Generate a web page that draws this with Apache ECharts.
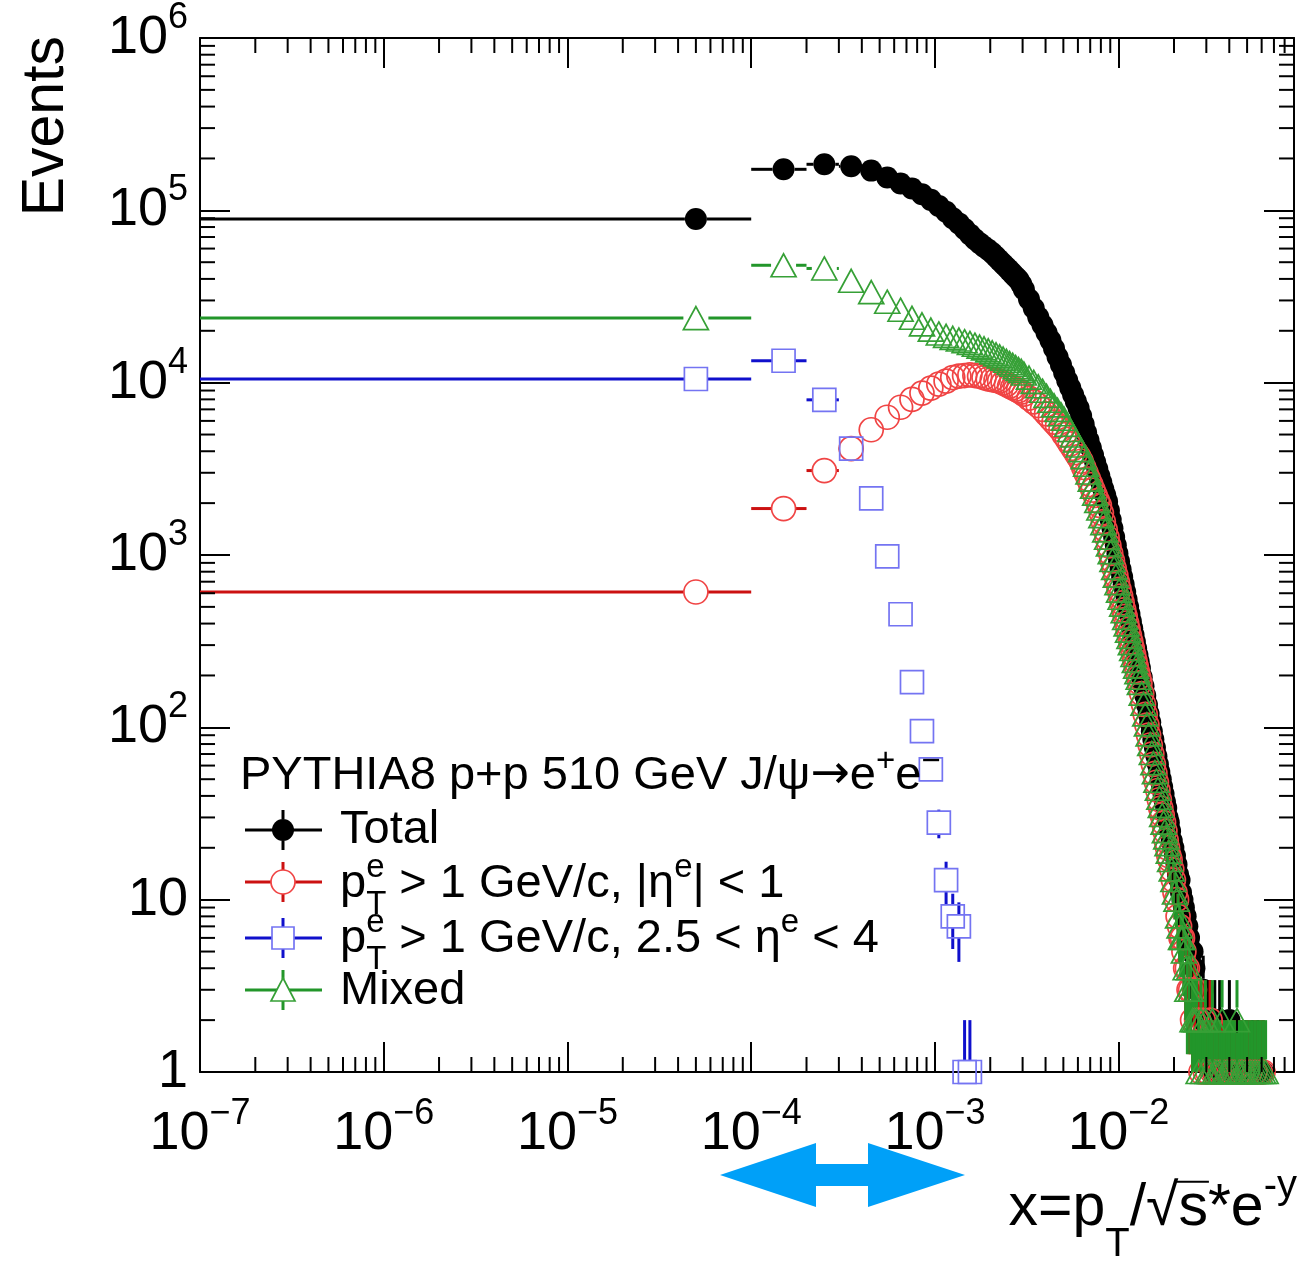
<!DOCTYPE html>
<html>
<head>
<meta charset="utf-8">
<script src="https://cdn.jsdelivr.net/npm/echarts@6/dist/echarts.min.js"></script>
<style>
  html, body { margin: 0; padding: 0; background: #ffffff; }
  #chart { width: 1312px; height: 1263px; }
</style>
</head>
<body>
<div id="chart"></div>
<script>
// ---- data -------------------------------------------------------------
// histogram bin width along x; bin k covers [k, k+1) * BIN_WIDTH
const BIN_WIDTH = 1e-4;

// indices of the drawn bins for the Total, |eta|<1 and Mixed samples
const binIndex = [
  0, 1, 2, 3, 4, 5, 6, 7, 8, 9, 10, 11, 12, 13, 14, 15, 16, 17, 18, 19,
  20, 21, 22, 23, 24, 25, 26, 27, 28, 29, 30,
  32, 34, 36, 38, 40, 42, 44, 46, 48, 50, 52, 54, 56, 58, 60, 62, 64, 66, 68, 70,
  72, 74, 76, 78, 80, 82, 84, 86, 88, 90, 92, 94, 96, 98, 100, 102, 104, 106, 108, 110,
  112, 114, 116, 118, 120, 122, 124, 126, 128, 130,
  133, 136, 139, 142, 145, 148, 151, 154, 157, 160, 163, 166, 169, 172, 175, 178, 181, 184, 187, 190,
  194, 198, 202, 206, 210, 214, 218, 222, 226,
  231, 236, 241, 246, 252, 258,
  265, 272, 280, 288, 296, 305, 314, 323, 333, 343, 354, 365, 376, 388, 400,
  413, 426, 440, 454, 469, 484, 500, 517, 534, 552, 570, 590, 610, 630
];

// event counts per bin (null = empty bin)
const totalCounts = [
  89000, 173000, 185000, 180000, 170000, 155000, 143000, 134000, 124000, 115000,
  106000, 98000, 90000, 84000, 78000, 72500, 68000, 64500, 61500, 59000,
  56600, 53800, 51200, 48800, 46700, 44700, 42800, 41100, 39600, 37200, 34700,
  30500, 27000, 24000, 21600, 19500, 17600, 15800, 14100, 12700, 11400, 10300, 9340, 8510, 7770, 7120, 6400, 5730, 5140, 4630, 4190,
  3800, 3450, 3150, 2870, 2630, 2410, 2220, 2040, 1810, 1600, 1430, 1270, 1140, 1020, 916, 824, 744, 673, 609, 552,
  501, 455, 413, 376, 343, 314, 287, 263, 241, 221,
  195, 173, 153, 135, 120, 107, 95, 85, 76, 68, 61, 55, 50, 45, 41, 37, 34, 30, 28, 25,
  22, 20, 18, 16, 14, 13, 11, 10, 9,
  8, 7, 6, 5, 5, 4,
  3, 3, 2, 3, 2, 2, 2, 1, 2, 1, 2, 1, 1, 1, 2,
  1, null, 1, 1, null, 1, 1, null, 1, null, 1, null, 1, null
];
const centralCounts = [
  610, 1860, 3090, 4140, 5330, 6300, 7200, 8000, 8700, 9300,
  9800, 10200, 10700, 10900, 11000, 11100, 11000, 10900, 10700, 10500,
  10400, 10300, 10200, 9980, 9760, 9550, 9350, 9170, 8990, 8820, 8570,
  8130, 7730, 7370, 7000, 6590, 6230, 5900, 5610, 5330, 4990, 4690, 4410, 4160, 3930, 3720, 3500, 3220, 2980, 2760, 2560,
  2380, 2220, 2070, 1940, 1750, 1560, 1400, 1260, 1130, 1020, 925, 838, 761, 692, 631, 577, 527, 481, 440, 403,
  370, 340, 313, 288, 265, 245, 227, 210, 195, 181,
  157, 136, 119, 103, 90, 79, 70, 61, 54, 48, 43, 38, 34, 31, 28, 25, 22, 20, 18, 17,
  15, 13, 11, 10, 8, 7, 6, 6, 5,
  4, 4, 3, 3, 2, 3,
  2, 2, 1, 2, 1, 1, 2, 1, 1, null, 1, 1, null, 1, null,
  1, 1, null, 1, 1, null, 1, 1, null, 1, null, 1, 1, null
];
const mixedCounts = [
  23700, 48000, 46000, 39000, 33500, 29500, 26500, 23800, 21800, 20300,
  19300, 18700, 18200, 17800, 17400, 17000, 16600, 16200, 15800, 15400,
  15000, 14600, 14200, 13800, 13400, 13000, 12700, 12300, 12000, 11700, 11300,
  10700, 10100, 9530, 8980, 8380, 7850, 7380, 6950, 6560, 6170, 5700, 5310, 4940, 4620, 4320, 4060, 3700, 3340, 3010, 2740,
  2490, 2270, 2060, 1860, 1680, 1530, 1390, 1260, 1150, 1040, 935, 842, 759, 687, 621, 565, 515, 472, 432, 396,
  364, 335, 308, 285, 263, 243, 225, 209, 194, 181,
  157, 137, 119, 104, 91, 80, 71, 62, 55, 49, 44, 39, 35, 31, 28, 25, 23, 21, 19, 17,
  15, 13, 11, 10, 8, 7, 6, 6, 5,
  4, 3, 4, 3, 2, 2,
  2, 1, 2, 1, 2, 1, 1, 2, 1, 1, 1, 2, 1, 1, 1,
  1, 1, 2, 1, 1, 1, 1, 1, 1, 1, 1, 1, 1, 1
];

// the forward sample only populates the lowest bins
const forwardBins = [0, 1, 2, 3, 4, 5, 6, 7, 8, 9, 10, 11, 12, 13, 14, 15];
const forwardCounts = [10500, 13400, 7950, 4140, 2130, 982, 453, 183, 95, 57, 28, 13, 8, 7, 1, 1];

// axis ranges and decade values
const X_MIN = 1e-7, X_MAX = 0.09;
const Y_MIN = 1, Y_MAX = 1e6;
const xDecades = [1e-7, 1e-6, 1e-5, 1e-4, 1e-3, 1e-2];
const yDecades = [1, 10, 100, 1e3, 1e4, 1e5];

// ---- styling ----------------------------------------------------------
const FONT = '"Liberation Sans", Helvetica, Arial, sans-serif';
const LABEL_SIZE = 54, SUP_SIZE = 36;
const MAJOR_LEN = 30, MINOR_LEN = 15;

const styles = {
  total:   { bar: '#000000', mark: '#000000', symbol: 'circle',   size: 22, filled: true },
  central: { bar: '#cc1111', mark: '#f04444', symbol: 'circle',   size: 24, filled: false },
  forward: { bar: '#1010cc', mark: '#7474f2', symbol: 'rect',     size: 23, filled: false },
  mixed:   { bar: '#22962a', mark: '#36a036', symbol: 'triangle', size: [25, 23], filled: false }
};

// ---- helpers ----------------------------------------------------------
function decadeExponent(v) {
  const e = Math.round(Math.log10(v));
  return Math.abs(v / Math.pow(10, e) - 1) < 1e-6 ? e : null;
}
function powerLabel(v) {
  const e = decadeExponent(v);
  if (e === null) return '';
  if (e === 0) return '{m|1}';
  if (e === 1) return '{m|10}';
  return '{m|10}{s|' + String(e).replace('-', '\u2212') + '}';
}
const labelRich = {
  m: { fontSize: LABEL_SIZE, fontFamily: FONT, color: '#000', lineHeight: 76 },
  s: { fontSize: SUP_SIZE, fontFamily: FONT, color: '#000', lineHeight: 36, verticalAlign: 'top' }
};

function pointsOf(bins, counts) {
  const pts = [];
  bins.forEach((k, i) => {
    if (counts[i] != null) pts.push([(k + 0.5) * BIN_WIDTH, counts[i], k]);
  });
  return pts;
}

function seg(x1, y1, x2, y2, color, w) {
  return { type: 'line', shape: { x1, y1, x2, y2 }, style: { stroke: color, lineWidth: w }, silent: true };
}

// horizontal bar = bin width, vertical bar = statistical error, with a gap at the marker
function errorBars(bins, counts, st, z) {
  const gap = (Array.isArray(st.size) ? st.size[0] : st.size) / 2;
  return {
    type: 'custom', data: pointsOf(bins, counts), z, silent: true, clip: false,
    encode: { x: 0, y: 1 },
    renderItem(params, api) {
      const cx = api.value(0), n = api.value(1), k = api.value(2);
      const lo = Math.max(k * BIN_WIDTH, X_MIN), hi = (k + 1) * BIN_WIDTH;
      const err = Math.sqrt(n);
      const yLo = Math.max(n - err, Y_MIN), yHi = n + err;
      const c = api.coord([cx, n]);
      const pl = api.coord([lo, n]), ph = api.coord([hi, n]);
      const pb = api.coord([cx, yLo]), pt = api.coord([cx, yHi]);
      const ch = [];
      if (c[0] - gap > pl[0]) ch.push(seg(pl[0], c[1], c[0] - gap, c[1], st.bar, 3));
      if (ph[0] > c[0] + gap) ch.push(seg(c[0] + gap, c[1], ph[0], c[1], st.bar, 3));
      if (c[1] - gap > pt[1]) ch.push(seg(c[0], c[1] - gap, c[0], pt[1], st.bar, 3));
      if (pb[1] > c[1] + gap) ch.push(seg(c[0], c[1] + gap, c[0], pb[1], st.bar, 3));
      return { type: 'group', children: ch };
    }
  };
}

function markers(name, bins, counts, st, z) {
  return {
    type: 'scatter', name, data: pointsOf(bins, counts), z, silent: true, clip: false,
    symbol: st.symbol, symbolSize: st.size,
    itemStyle: st.filled
      ? { color: st.mark, opacity: 1 }
      : { color: 'rgba(0,0,0,0)', borderColor: st.mark, borderWidth: 1.7, opacity: 1 },
    emphasis: { disabled: true }
  };
}

// log-spaced minor ticks (2..9 per decade) on all four sides of the frame
const xMinor = [], yMinor = [];
xDecades.forEach(d => { for (let m = 2; m <= 9; m++) if (m * d <= X_MAX * 1.0001) xMinor.push(m * d); });
yDecades.forEach(d => { for (let m = 2; m <= 9; m++) yMinor.push(m * d); });
const minorTicks = {
  type: 'custom', data: [[X_MIN, Y_MIN]], z: 20, silent: true, clip: false,
  renderItem(params, api) {
    const cs = params.coordSys;
    const left = cs.x, right = cs.x + cs.width, top = cs.y, bottom = cs.y + cs.height;
    const ch = [];
    xMinor.forEach(v => {
      const px = api.coord([v, Y_MIN])[0];
      ch.push(seg(px, bottom, px, bottom - MINOR_LEN, '#000', 2));
      ch.push(seg(px, top, px, top + MINOR_LEN, '#000', 2));
    });
    yMinor.forEach(v => {
      const py = api.coord([X_MIN, v])[1];
      ch.push(seg(left, py, left + MINOR_LEN, py, '#000', 2));
      ch.push(seg(right, py, right - MINOR_LEN, py, '#000', 2));
    });
    return { type: 'group', children: ch };
  }
};

// ---- text runs with sub/superscripts ----------------------------------
const measureCtx = document.createElement('canvas').getContext('2d');
function textWidth(t, size, family) {
  measureCtx.font = size + 'px ' + (family || FONT);
  return measureCtx.measureText(t).width;
}
// pieces: {text, size, rise, stack, family}; a stacked piece shares its x with the next one
function textRun(x0, baseline, pieces) {
  const els = [];
  let x = x0, pending = 0;
  pieces.forEach(p => {
    const fam = p.family || FONT;
    const w = textWidth(p.text, p.size, fam);
    els.push({
      type: 'text', x, y: baseline - (p.rise || 0) - 0.3465 * p.size, silent: true, z: 100,
      style: { text: p.text, fontSize: p.size, fontFamily: fam, fill: '#000', align: 'left', verticalAlign: 'middle' }
    });
    if (p.stack) { pending = Math.max(pending, w); }
    else { x += Math.max(w, pending); pending = 0; }
  });
  return { els, width: x - x0 };
}

const LEG = 47, LSUP = 33;
const graphics = [];

// legend header
graphics.push(...textRun(240, 792, [
  { text: 'PYTHIA8 p+p 510 GeV J/\u03c8', size: LEG },
  { text: '\u2192', size: LEG, family: '"DejaVu Sans", sans-serif' },
  { text: 'e', size: LEG },
  { text: '+', size: LSUP, rise: 19 },
  { text: 'e', size: LEG },
  { text: '\u2212', size: LSUP, rise: 19 }
]).els);

// legend entries
const legendRows = [
  { st: styles.total, y: 830, base: 846, pieces: [{ text: 'Total', size: LEG }] },
  { st: styles.central, y: 882, base: 900, pieces: [
    { text: 'p', size: LEG }, { text: 'e', size: LSUP, rise: 21, stack: true }, { text: 'T', size: LSUP, rise: -16 },
    { text: ' > 1 GeV/c, |\u03b7', size: LEG }, { text: 'e', size: LSUP, rise: 21 }, { text: '| < 1', size: LEG }] },
  { st: styles.forward, y: 938, base: 955, pieces: [
    { text: 'p', size: LEG }, { text: 'e', size: LSUP, rise: 21, stack: true }, { text: 'T', size: LSUP, rise: -16 },
    { text: ' > 1 GeV/c, 2.5 < \u03b7', size: LEG }, { text: 'e', size: LSUP, rise: 21 }, { text: ' < 4', size: LEG }] },
  { st: styles.mixed, y: 990, base: 1007, pieces: [{ text: 'Mixed', size: LEG }] }
];
legendRows.forEach(row => {
  const st = row.st, cx = 283, cy = row.y;
  graphics.push(seg(245, cy, 322, cy, st.bar, 3));
  graphics.push(seg(cx, cy - 20, cx, cy - 11, st.bar, 3));
  graphics.push(seg(cx, cy + 11, cx, cy + 20, st.bar, 3));
  if (st.symbol === 'circle') {
    graphics.push({ type: 'circle', shape: { cx, cy, r: st.filled ? 11 : 12 }, silent: true,
      style: st.filled ? { fill: st.mark } : { fill: '#fff', stroke: st.mark, lineWidth: 1.7 } });
  } else if (st.symbol === 'rect') {
    graphics.push({ type: 'rect', shape: { x: cx - 11, y: cy - 11, width: 22, height: 22 }, silent: true,
      style: { fill: '#fff', stroke: st.mark, lineWidth: 1.7 } });
  } else {
    graphics.push({ type: 'polygon', shape: { points: [[cx, cy - 12], [cx + 12, cy + 11], [cx - 12, cy + 11]] }, silent: true,
      style: { fill: '#fff', stroke: st.mark, lineWidth: 1.7 } });
  }
  graphics.push(...textRun(340, row.base, row.pieces).els);
});

// y axis title
graphics.push({
  type: 'text', x: 47, y: 36, rotation: Math.PI / 2, silent: true,
  style: { text: 'Events', fontSize: 59, fontFamily: FONT, fill: '#000', align: 'right', verticalAlign: 'middle' }
});

// x axis title: x = pT / sqrt(s) * e^-y, right-aligned with the frame
const T = 59, TS = 40;
const xTitlePieces = [
  { text: 'x=p', size: T }, { text: 'T', size: TS, rise: -30 }, { text: '/', size: T },
  { text: '\u221a', size: T }, { text: 's', size: T }, { text: '*e', size: T }, { text: '-y', size: TS, rise: 28 }
];
const probe = textRun(0, 0, xTitlePieces);
const xTitleStart = 1297 - probe.width;
graphics.push(...textRun(xTitleStart, 1229, xTitlePieces).els);
{
  // overline of the square root, spanning the "s"
  let x = xTitleStart;
  for (let i = 0; i < 4; i++) x += textWidth(xTitlePieces[i].text, xTitlePieces[i].size);
  const sw = textWidth('s', T);
  graphics.push(seg(x - 2, 1229 - 0.80 * T, x + sw + 1, 1229 - 0.80 * T, '#000', 2));
}

// range marker arrow below the x axis
graphics.push({
  type: 'polygon', silent: true, z: 100,
  shape: { points: [[720, 1175], [816, 1143], [816, 1164], [868, 1164], [868, 1143], [965, 1175],
                    [868, 1207], [868, 1186], [816, 1186], [816, 1207]] },
  style: { fill: '#00a0f8' }
});

// ---- chart ------------------------------------------------------------
const axisCommon = {
  type: 'log', logBase: 10, interval: 1,
  axisLine: { show: true, onZero: false, lineStyle: { color: '#000', width: 2 } },
  axisTick: { show: true, inside: true, length: MAJOR_LEN, lineStyle: { color: '#000', width: 2 } },
  splitLine: { show: false }, minorTick: { show: false }, minorSplitLine: { show: false }
};

const chart = echarts.init(document.getElementById('chart'), null, { renderer: 'canvas', width: 1312, height: 1263 });
chart.setOption({
  animation: false,
  backgroundColor: '#ffffff',
  grid: { left: 200, top: 35, right: 18, bottom: 191, containLabel: false },
  xAxis: [
    Object.assign({}, axisCommon, {
      position: 'bottom', min: X_MIN, max: X_MAX,
      axisLabel: { show: true, margin: 24, formatter: powerLabel, rich: labelRich, showMaxLabel: false, showMinLabel: true }
    }),
    Object.assign({}, axisCommon, { position: 'top', min: X_MIN, max: X_MAX, axisLabel: { show: false } })
  ],
  yAxis: [
    Object.assign({}, axisCommon, {
      position: 'left', min: Y_MIN, max: Y_MAX,
      axisLabel: { show: true, margin: 12, formatter: powerLabel, rich: labelRich, align: 'right', showMaxLabel: true, showMinLabel: true }
    }),
    Object.assign({}, axisCommon, { position: 'right', min: Y_MIN, max: Y_MAX, axisLabel: { show: false } })
  ],
  series: [
    errorBars(binIndex, totalCounts, styles.total, 3),
    markers('Total', binIndex, totalCounts, styles.total, 4),
    errorBars(binIndex, centralCounts, styles.central, 5),
    markers('pT > 1 GeV/c, |eta| < 1', binIndex, centralCounts, styles.central, 6),
    errorBars(forwardBins, forwardCounts, styles.forward, 7),
    markers('pT > 1 GeV/c, 2.5 < eta < 4', forwardBins, forwardCounts, styles.forward, 8),
    errorBars(binIndex, mixedCounts, styles.mixed, 9),
    markers('Mixed', binIndex, mixedCounts, styles.mixed, 10),
    minorTicks
  ],
  graphic: graphics
});
</script>
</body>
</html>
